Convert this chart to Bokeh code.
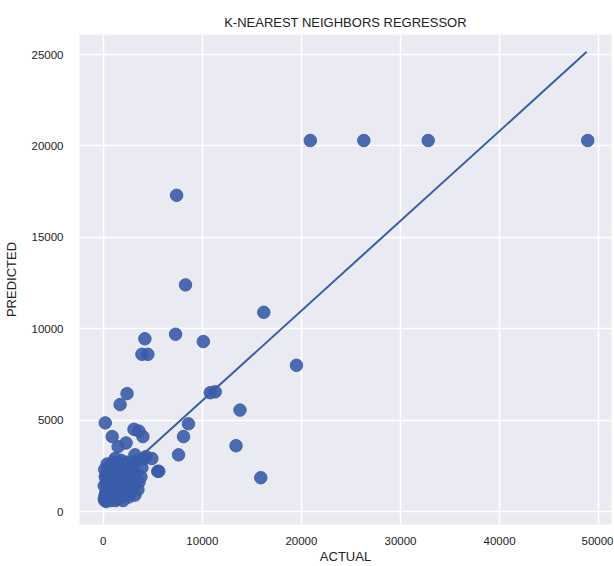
from bokeh.plotting import figure
from bokeh.models import ColumnDataSource, FixedTicker, Range1d
from bokeh.embed import file_html
from bokeh.resources import INLINE

# Actual vs predicted values
actual = [
    20900, 26300, 32800, 48900,
    7400, 8300, 16200, 7300, 10100, 4200, 3900, 4500,
    2400, 1700, 19500, 10800, 11300, 13800, 13400, 15900,
    8600, 8100, 7600, 5500, 5600, 200, 900, 3100, 3600, 4000,
    1500, 2300, 3200, 4900, 4100, 4300,
    # dense cluster near origin
    150, 300, 500, 800, 1000, 200, 400, 700, 1200, 1500,
    100, 300, 600, 900, 1300, 1800, 2100, 2500, 2800, 3100,
    200, 500, 800, 1100, 1400, 1700, 2000, 2300, 2600, 2900,
    150, 400, 700, 1000, 1300, 1600, 1900, 2200, 2700, 3300,
    3600, 3000, 1200, 1800, 2400, 3400, 3800, 2000, 1600, 2600,
    3200, 100, 400, 900, 1400, 2200, 3500, 600, 1100, 1700,
    2500, 3000, 3900, 250, 550, 1250, 1850, 2750, 350, 950,
]
predicted = [
    20300, 20300, 20300, 20300,
    17300, 12400, 10900, 9700, 9300, 9450, 8600, 8600,
    6450, 5850, 8000, 6500, 6550, 5550, 3600, 1850,
    4800, 4100, 3100, 2200, 2200, 4850, 4100, 4500, 4400, 4100,
    3550, 3750, 3100, 2900, 2900, 3000,
    # dense cluster near origin
    600, 550, 700, 600, 800, 900, 1100, 1000, 900, 1100,
    1400, 1600, 1300, 1500, 1400, 1200, 1000, 1300, 1100, 1400,
    1900, 2100, 1800, 2000, 1700, 1900, 1600, 1800, 2000, 1700,
    2300, 2600, 2500, 2700, 2300, 2500, 2200, 2400, 2300, 2100,
    1600, 2600, 2900, 2800, 2700, 2800, 1900, 600, 700, 800,
    900, 700, 1300, 1200, 1900, 2600, 1200, 1700, 1500, 1100,
    1500, 1900, 2400, 1000, 2400, 600, 1500, 1200, 2000, 2300,
]

# Regression line endpoints
fit_x = [100, 48800]
fit_y = [1200, 25150]

x_ticks = [0, 10000, 20000, 30000, 40000, 50000]
y_ticks = [0, 5000, 10000, 15000, 20000, 25000]

FONT = "Liberation Sans"
BLUE = "#3a5ca8"

p = figure(
    frame_width=532, frame_height=490,
    min_border_left=65, min_border_right=2, min_border_top=34, min_border_bottom=5,
    output_backend="svg", toolbar_location=None,
    title="K-NEAREST NEIGHBORS REGRESSOR",
    x_range=Range1d(-2400, 51300), y_range=Range1d(-710, 26100),
)

p.background_fill_color = "#eaeaf2"
p.border_fill_color = "white"
p.outline_line_color = None

p.title.align = "center"
p.title.text_font = FONT
p.title.text_font_size = "13px"
p.title.text_font_style = "normal"
p.title.text_color = "#222222"
p.title.offset = 0

for ax in (p.xaxis, p.yaxis):
    ax.axis_line_color = None
    ax.major_tick_line_color = None
    ax.minor_tick_line_color = None
    ax.major_label_text_font = FONT
    ax.major_label_text_font_size = "11.5px"
    ax.major_label_text_color = "#222222"
    ax.axis_label_text_font = FONT
    ax.axis_label_text_font_size = "13px"
    ax.axis_label_text_font_style = "normal"
    ax.axis_label_text_color = "#222222"

p.xaxis.ticker = FixedTicker(ticks=x_ticks)
p.yaxis.ticker = FixedTicker(ticks=y_ticks)
p.xaxis.axis_label = "ACTUAL"
p.yaxis.axis_label = "PREDICTED"
p.xaxis.major_label_standoff = 6
p.yaxis.major_label_standoff = 10
p.xaxis.axis_label_standoff = 1
p.yaxis.axis_label_standoff = 10

p.xgrid.grid_line_color = "white"
p.ygrid.grid_line_color = "white"
p.xgrid.grid_line_width = 1.5
p.ygrid.grid_line_width = 1.5

src = ColumnDataSource(dict(actual=actual, predicted=predicted))
p.scatter("actual", "predicted", source=src, size=12.5, fill_color=BLUE,
          line_color=BLUE, fill_alpha=0.9, line_alpha=0.9)
p.line(fit_x, fit_y, line_color=BLUE, line_width=2)

open("out.html", "w").write(file_html(p, INLINE))
